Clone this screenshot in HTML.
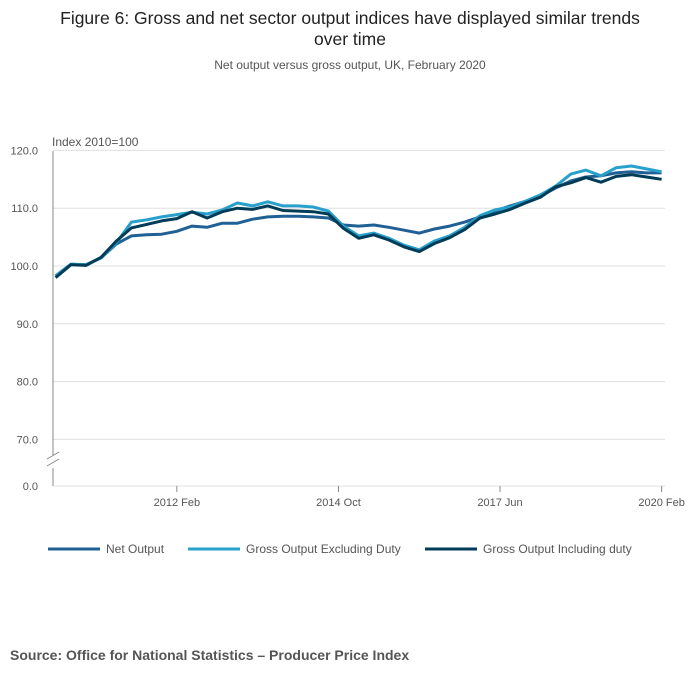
<!DOCTYPE html>
<html><head><meta charset="utf-8"><style>
body{margin:0;background:#fff;font-family:"Liberation Sans",sans-serif;}
#wrap{position:relative;width:700px;height:682px;overflow:hidden;}
</style></head><body><div id="wrap">
<svg id="chart" width="700" height="682"></svg>
</div>
<script>
const monthIdx=[1,4,7,10,13,16,19,22,25,28,31,34,37,40,43,46,49,52,55,58,61,64,67,70,73,76,79,82,85,88,91,94,97,100,103,106,109,112,115,118,121];
const netOutput=[98.3,100.3,100.2,101.4,103.8,105.2,105.4,105.5,106.0,106.9,106.7,107.4,107.4,108.1,108.5,108.6,108.6,108.5,108.3,107.1,106.9,107.1,106.7,106.2,105.7,106.4,106.9,107.6,108.5,109.5,110.4,111.2,112.1,113.5,114.7,115.4,115.6,116.1,116.3,116.1,116.1];
const grossExclDuty=[98.3,100.3,100.2,101.4,104.0,107.6,108.0,108.5,108.9,109.3,109.0,109.7,110.9,110.4,111.1,110.4,110.4,110.2,109.5,106.9,105.2,105.7,104.8,103.6,102.8,104.3,105.2,106.7,108.7,109.7,110.2,111.2,112.3,113.8,115.9,116.6,115.6,117.0,117.3,116.8,116.3];
const grossInclDuty=[98.0,100.2,100.1,101.5,104.3,106.6,107.2,107.8,108.2,109.4,108.3,109.4,110.0,109.8,110.4,109.6,109.5,109.4,109.0,106.5,104.8,105.4,104.5,103.3,102.5,103.9,104.9,106.3,108.3,109.0,109.8,110.9,111.9,113.7,114.4,115.3,114.5,115.5,115.8,115.4,115.0];
const yTicks=[70,80,90,100,110,120];
const xTickLabels=["2012 Feb","2014 Oct","2017 Jun","2020 Feb"];
const xTickMonths=[25,57,89,121];
const seriesNames=["Net Output","Gross Output Excluding Duty","Gross Output Including duty"];
const seriesColors=["#206095","#27a0cc","#003c57"];

const NS="http://www.w3.org/2000/svg";
const svg=document.getElementById('chart');
function xS(m){return 50.6+m*5.05;}
function yS(v){return 266-(v-100)*5.78;}
function mk(tag,attrs,parent){const e=document.createElementNS(NS,tag);for(const k in attrs)e.setAttribute(k,attrs[k]);(parent||svg).appendChild(e);return e;}
function txt(s,attrs){const t=mk('text',attrs);t.textContent=s;return t;}

let t=txt("Figure 6: Gross and net sector output indices have displayed similar trends",{x:350,y:24,'text-anchor':'middle','font-size':'17.5','fill':'#222'});


t=txt("over time",{x:350,y:45,'text-anchor':'middle','font-size':'17.5','fill':'#222'});


t=txt("Net output versus gross output, UK, February 2020",{x:350,y:69,'text-anchor':'middle','font-size':'12','fill':'#555'});


t=txt("Index 2010=100",{x:52,y:146,'font-size':'12','fill':'#555'});



yTicks.forEach(v=>{
  const y=yS(v);
  const g=mk('line',{x1:53,x2:665,y1:y,y2:y,stroke:'#e0e0e0','stroke-width':1});
  
  
  const l=txt(v.toFixed(1),{x:38,y:y+4,'text-anchor':'end','font-size':'11','fill':'#555'});
  
  
});
let g0=mk('line',{x1:53,x2:665,y1:486,y2:486,stroke:'#e0e0e0','stroke-width':1});


t=txt("0.0",{x:38,y:490,'text-anchor':'end','font-size':'11','fill':'#555'});


let ax=mk('path',{d:'M53,151 V455 M53,468 V486',stroke:'#888','stroke-width':1,fill:'none'});


let br=mk('path',{d:'M47,459 L59,452 M47,466 L59,459',stroke:'#888','stroke-width':1,fill:'none'});



xTickMonths.forEach((m,i)=>{
  const x=xS(m);
  const tk=mk('line',{x1:x,x2:x,y1:486,y2:492,stroke:'#888'});
  
  
  const l=txt(xTickLabels[i],{x:x,y:506,'text-anchor':'middle','font-size':'11','fill':'#555'});
  
  
});

[netOutput,grossExclDuty,grossInclDuty].forEach((arr,si)=>{
  const d=arr.map((v,i)=>(i?'L':'M')+xS(monthIdx[i]).toFixed(1)+','+yS(v).toFixed(1)).join(' ');
  const p=mk('path',{d:d,fill:'none',stroke:seriesColors[si],'stroke-width':3,'stroke-linejoin':'round'});
  
  
});

const legX=[48,188,425];
seriesNames.forEach((n,i)=>{
  const l=mk('line',{x1:legX[i],x2:legX[i]+52,y1:549,y2:549,stroke:seriesColors[i],'stroke-width':3});
  
  
  const tx=txt(n,{x:legX[i]+58,y:553,'font-size':'12','fill':'#555'});
  
  
});
t=txt("Source: Office for National Statistics \u2013 Producer Price Index",{x:10,y:660,'font-size':'14','font-weight':'bold','fill':'#555'});


</script></body></html>
